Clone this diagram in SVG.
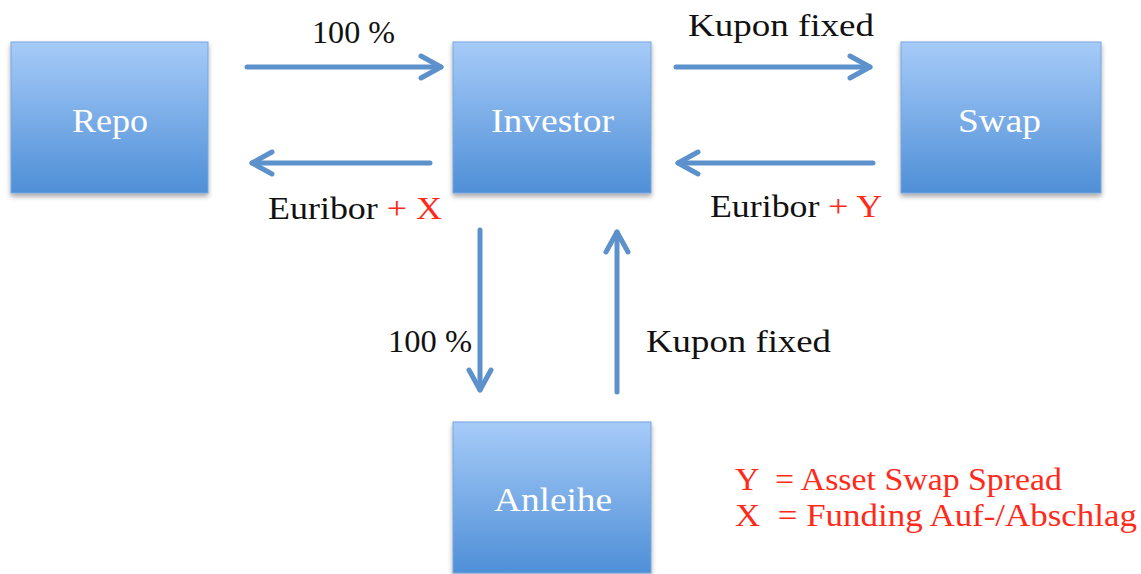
<svg xmlns="http://www.w3.org/2000/svg" width="1141" height="574" viewBox="0 0 1141 574">
<defs>
<linearGradient id="boxg" x1="0" y1="0" x2="0" y2="1">
<stop offset="0" stop-color="#a6cbf8"/>
<stop offset="1" stop-color="#4f8fd7"/>
</linearGradient>
<filter id="sh" x="-10%" y="-10%" width="120%" height="125%">
<feDropShadow dx="0" dy="3" stdDeviation="2.5" flood-color="#000" flood-opacity="0.35"/>
</filter>
<marker id="ah" viewBox="-26 -15 30 30" refX="0" refY="0" markerWidth="30" markerHeight="30" markerUnits="userSpaceOnUse" orient="auto">
<path d="M -20 -11 L 0 0 L -20 11" fill="none" stroke="#5d91cb" stroke-width="5" stroke-linecap="round" stroke-linejoin="round"/>
</marker>
</defs>
<style>
.box{fill:url(#boxg);stroke:#76a6dd;stroke-width:1;filter:url(#sh)}
.bl{font-family:"Liberation Serif",serif;font-size:33px;fill:#ffffff}
.t{font-family:"Liberation Serif",serif;font-size:32px;fill:#111111;white-space:pre}
.r{fill:#ff2a1a}
.c{fill:none;stroke:#5d91cb;stroke-width:5;stroke-linecap:round;marker-end:url(#ah)}
</style>
<rect width="1141" height="574" fill="#ffffff"/>
<g id="repo"><rect class="box" x="11" y="42" width="197" height="151"/><text class="bl" x="72" y="132" textLength="76" lengthAdjust="spacingAndGlyphs">Repo</text></g>
<g id="investor"><rect class="box" x="453" y="42" width="198" height="151"/><text class="bl" x="491" y="132" textLength="123" lengthAdjust="spacingAndGlyphs">Investor</text></g>
<g id="swap"><rect class="box" x="901" y="42" width="200" height="151"/><text class="bl" x="958" y="132" textLength="83" lengthAdjust="spacingAndGlyphs">Swap</text></g>
<g id="anleihe"><rect class="box" x="453" y="422" width="198" height="151"/><text class="bl" x="494" y="511" textLength="118" lengthAdjust="spacingAndGlyphs">Anleihe</text></g>
<g id="connectors">
<line class="c" x1="247" y1="67" x2="441" y2="67"/>
<line class="c" x1="430" y1="163" x2="252" y2="163"/>
<line class="c" x1="676" y1="67" x2="870" y2="67"/>
<line class="c" x1="873" y1="163" x2="678" y2="163"/>
<line class="c" x1="480" y1="230" x2="480" y2="390"/>
<line class="c" x1="617" y1="392" x2="617" y2="232"/>
</g>
<g id="labels">
<text class="t" x="312" y="43" textLength="83" lengthAdjust="spacingAndGlyphs">100 %</text>
<text class="t" x="688" y="36" textLength="186" lengthAdjust="spacingAndGlyphs">Kupon fixed</text>
<text class="t" x="268" y="219" textLength="174" lengthAdjust="spacingAndGlyphs">Euribor <tspan class="r">+ X</tspan></text>
<text class="t" x="710" y="217" textLength="172" lengthAdjust="spacingAndGlyphs">Euribor <tspan class="r">+ Y</tspan></text>
<text class="t" x="388" y="352" textLength="84" lengthAdjust="spacingAndGlyphs">100 %</text>
<text class="t" x="646" y="352" textLength="185" lengthAdjust="spacingAndGlyphs">Kupon fixed</text>
<text class="t r" x="735" y="490" textLength="327" lengthAdjust="spacingAndGlyphs" xml:space="preserve">Y  = Asset Swap Spread</text>
<text class="t r" x="735" y="526" textLength="402" lengthAdjust="spacingAndGlyphs" xml:space="preserve">X  = Funding Auf-/Abschlag</text>
</g>
</svg>
